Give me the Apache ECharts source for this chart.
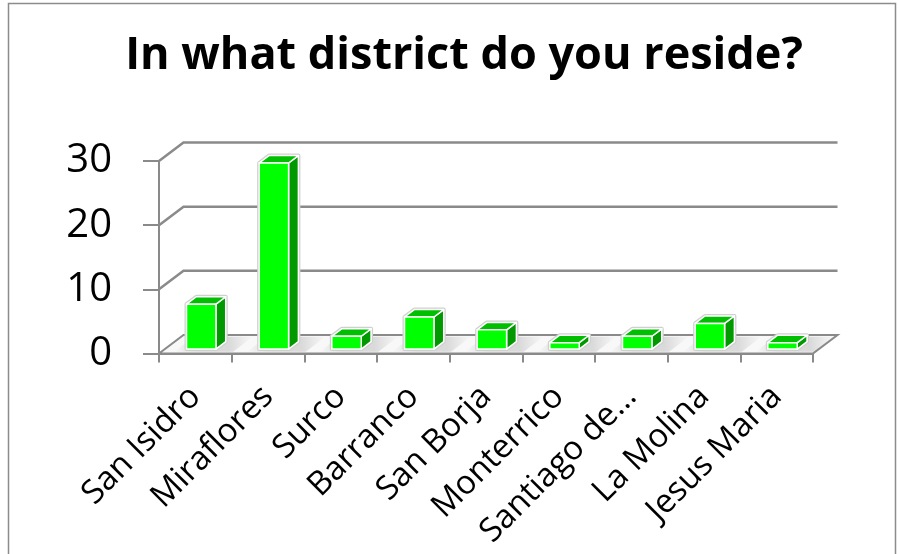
<!DOCTYPE html>
<html>
<head>
<meta charset="utf-8">
<style>
  html, body { margin: 0; padding: 0; background: #ffffff; }
  #chart { width: 900px; height: 554px; }
</style>
<script src="https://cdn.jsdelivr.net/npm/echarts@6/dist/echarts.min.js"></script>
</head>
<body>
<div id="chart"></div>
<script>
// Survey answers: number of respondents per district
const categories = ['San Isidro', 'Miraflores', 'Surco', 'Barranco', 'San Borja',
                    'Monterrico', 'Santiago de…', 'La Molina', 'Jesus Maria'];
const counts = [7, 29, 2, 5, 3, 1, 2, 4, 1];
const gridValues = [10, 20, 30];
const titleText = 'In what district do you reside?';

// Oblique projection used for the pseudo-3D look (pixels per full depth)
const DX = 24.5, DY = -18.5;
const BAR_FRONT = 0.24;   // depth of the bar front face
const BAR_DEPTH = 0.40;   // depth of a bar
const BAR_WIDTH = 0.405;  // share of the category band

const GRAY = '#8a8a8a';

const chart = echarts.init(document.getElementById('chart'), null, { renderer: 'canvas' });

function renderFrame(params, api) {
  const cs = params.coordSys;
  const x0 = cs.x, xR = cs.x + cs.width;
  const y0 = api.coord([0, 0])[1];
  const children = [];
  children.push({
    type: 'polygon',
    shape: { points: [[x0, y0], [xR, y0], [xR + DX, y0 + DY], [x0 + DX, y0 + DY]] },
    style: { fill: '#f8f8f8', stroke: GRAY, lineWidth: 2 }
  });
  gridValues.forEach(function (v) {
    const y = api.coord([0, v])[1];
    children.push({
      type: 'polyline',
      shape: { points: [[x0, y], [x0 + DX, y + DY], [xR + DX, y + DY]] },
      style: { stroke: GRAY, lineWidth: 2.5, fill: null }
    });
  });
  return { type: 'group', children: children };
}

function renderBar(params, api) {
  const i = api.value(0), v = api.value(1);
  const top = api.coord([i, v]);
  const base = api.coord([i, 0]);
  const band = api.size([1, 0])[0];
  const w = band * BAR_WIDTH;
  const L = top[0] - w / 2 + DX * BAR_FRONT;
  const R = L + w;
  const T = top[1] + DY * BAR_FRONT;
  const B = base[1] + DY * BAR_FRONT;
  const dx = DX * BAR_DEPTH, dy = DY * BAR_DEPTH;
  const fy = base[1];
  const sw = w * 0.5;
  return {
    type: 'group',
    children: [
      {
        // soft shading on the floor around the bar
        type: 'polygon',
        shape: { points: [
          [L - sw + DX * 0.1, fy + DY * 0.1], [R + sw + DX * 0.1, fy + DY * 0.1],
          [R + sw + DX * 0.9, fy + DY * 0.9], [L - sw + DX * 0.9, fy + DY * 0.9]] },
        style: {
          fill: new echarts.graphic.LinearGradient(0, 0, 1, 0, [
            { offset: 0, color: 'rgba(0,0,0,0)' },
            { offset: 0.3, color: 'rgba(0,0,0,0.12)' },
            { offset: 0.7, color: 'rgba(0,0,0,0.12)' },
            { offset: 1, color: 'rgba(0,0,0,0)' }
          ])
        }
      },
      {
        // light outline around the box silhouette
        type: 'polygon',
        shape: { points: [[L, B], [L, T], [L + dx, T + dy], [R + dx, T + dy], [R + dx, B + dy], [R, B]] },
        style: { fill: '#ffffff', stroke: '#cfcfcf', lineWidth: 4, lineJoin: 'round' }
      },
      {
        type: 'polygon',
        shape: { points: [[R, B], [R, T], [R + dx, T + dy], [R + dx, B + dy]] },
        style: { fill: '#009a00', stroke: '#ffffff', lineWidth: 1.5, lineJoin: 'round' }
      },
      {
        type: 'polygon',
        shape: { points: [[L, T], [R, T], [R + dx, T + dy], [L + dx, T + dy]] },
        style: { fill: '#00bf00', stroke: '#ffffff', lineWidth: 1.5, lineJoin: 'round' }
      },
      {
        type: 'rect',
        shape: { x: L, y: T, width: w, height: B - T },
        style: { fill: '#00ff00', stroke: '#ffffff', lineWidth: 1.5 }
      }
    ]
  };
}

chart.setOption({
  animation: false,
  backgroundColor: '#ffffff',
  title: {
    text: titleText,
    left: 459,
    top: 29,
    textAlign: 'center',
    textStyle: { fontFamily: 'Open Sans', fontWeight: 'bold', fontSize: 45, color: '#000000' }
  },
  graphic: [{
    type: 'rect',
    shape: { x: 8.5, y: 3.5, width: 887, height: 570 },
    style: { fill: null, stroke: '#8c8c8c', lineWidth: 1.5 },
    silent: true
  }],
  grid: { left: 159, right: 87, top: 161, bottom: 200.5, containLabel: false },
  xAxis: {
    type: 'category',
    data: categories,
    axisLine: { show: true, lineStyle: { color: GRAY, width: 2 } },
    axisTick: { show: true, length: 9, alignWithLabel: false, lineStyle: { color: GRAY, width: 2 } },
    axisLabel: {
      interval: 0, rotate: 45, margin: 38,
      fontFamily: 'Open Sans', fontSize: 33, color: '#000000'
    },
    splitLine: { show: false }
  },
  yAxis: {
    type: 'value',
    min: 0, max: 30, interval: 10,
    axisLine: { show: true, lineStyle: { color: GRAY, width: 2 } },
    axisTick: { show: true, length: 16, inside: false, lineStyle: { color: GRAY, width: 2 } },
    axisLabel: {
      margin: 47, fontFamily: 'Open Sans', fontSize: 40, color: '#000000',
      padding: [6, 0, 0, 0]
    },
    splitLine: { show: false }
  },
  series: [
    {
      type: 'custom',
      name: 'frame',
      renderItem: renderFrame,
      data: [[0, 0]],
      clip: false,
      silent: true,
      z: 1
    },
    {
      type: 'custom',
      name: 'Respondents',
      renderItem: renderBar,
      data: counts.map(function (v, i) { return [i, v]; }),
      encode: { x: 0, y: 1 },
      clip: false,
      z: 3
    }
  ]
});
</script>
</body>
</html>
